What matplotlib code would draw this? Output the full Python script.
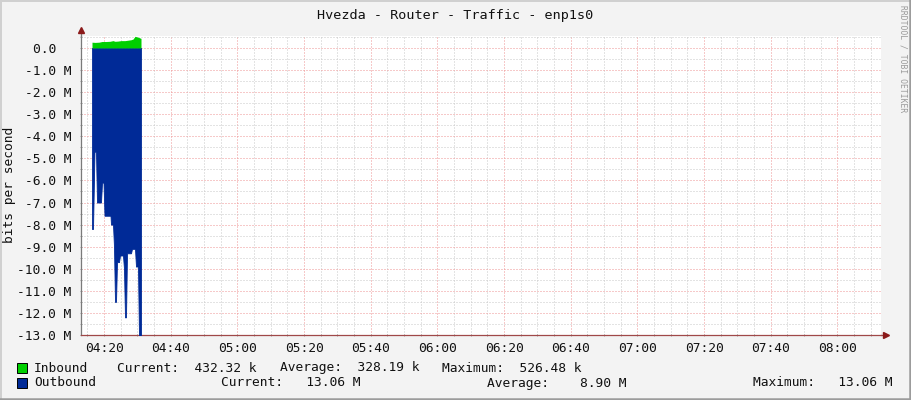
import matplotlib
matplotlib.use('Agg')
import matplotlib.pyplot as plt
import numpy as np
from matplotlib.lines import Line2D
from matplotlib.patches import Rectangle
from matplotlib.ticker import FixedLocator, MultipleLocator

# sample times and values (bits per second, in M)
in_times = ['04:16:24', '04:17:18', '04:18:30', '04:19:24', '04:20:36', '04:21:48',
            '04:22:42', '04:23:18', '04:24:12', '04:25:06', '04:26:18', '04:27:12',
            '04:28:06', '04:28:42', '04:29:18', '04:29:54', '04:30:30', '04:31:06']
in_values = [0.26, 0.25, 0.26, 0.29, 0.29, 0.30, 0.33, 0.30, 0.31, 0.33, 0.33, 0.35,
             0.37, 0.40, 0.526, 0.50, 0.47, 0.432]

out_times = ['04:16:24', '04:16:42', '04:17:09', '04:17:36', '04:17:54', '04:19:06',
             '04:19:24', '04:19:51', '04:20:09', '04:21:57', '04:22:06', '04:22:42',
             '04:23:00', '04:23:18', '04:23:36', '04:23:54', '04:24:30', '04:24:48',
             '04:25:42', '04:26:00', '04:26:18', '04:26:36', '04:26:54', '04:28:06',
             '04:28:24', '04:29:18', '04:29:36', '04:30:12', '04:30:30', '04:31:06']
out_values = [8.2, 8.2, 4.7, 4.7, 7.0, 7.0, 6.1, 6.1, 7.6, 7.6, 8.0, 8.0,
              9.0, 11.5, 11.5, 9.7, 9.7, 9.4, 9.4, 10.0, 12.2, 12.2, 9.3, 9.3,
              9.1, 9.1, 9.9, 9.9, 13.06, 13.06]

hour_labels = ['04:20', '04:40', '05:00', '05:20', '05:40', '06:00',
               '06:20', '06:40', '07:00', '07:20', '07:40', '08:00']
y_ticks = list(range(-13, 1))

# legend: name, colour, GPRINT strings with their left x (px)
legend_rows = [
    ('Inbound', '#00CF00', [('Current:  432.32 k', 117), ('Average:  328.19 k', 280),
                            ('Maximum:  526.48 k', 442)]),
    ('Outbound', '#002A97', [('Current:   13.06 M', 221), ('Average:    8.90 M', 487),
                             ('Maximum:   13.06 M', 753)]),
]


def to_min(s):
    h, m, sec = [int(p) for p in s.split(':')]
    return (h - 4) * 60 + m + sec / 60.0


W, H = 911, 400
fig = plt.figure(figsize=(W / 100, H / 100), dpi=100, facecolor='#F3F3F3')


def fx(x):
    return x / W


def fy(y):
    return 1 - y / H


mono = 'DejaVu Sans Mono'
fs = 9.3
ax = fig.add_axes([fx(81), fy(335), 800 / W, 299 / H], facecolor='white')

t_in = [to_min(t) for t in in_times]
t_out = [to_min(t) for t in out_times]
ax.fill_between(t_out, 0, -np.array(out_values), color='#002A97', lw=0.6, zorder=3)
ax.fill_between(t_in, 0, in_values, color='#00CF00', lw=0, zorder=3)

x0 = 20 - 23 * 0.3
ax.set_xlim(x0, x0 + 240)
ax.set_ylim(-13, 0.54)

major_x = [to_min(h + ':00') for h in hour_labels]
ax.xaxis.set_major_locator(FixedLocator(major_x))
ax.set_xticklabels(hour_labels)
ax.xaxis.set_minor_locator(MultipleLocator(5))
ax.set_yticks(y_ticks)
ax.set_yticklabels(['0.0  ' if v == 0 else '%.1f M' % v for v in y_ticks])
ax.yaxis.set_minor_locator(MultipleLocator(0.5))

ax.grid(which='minor', color='#C8C8C8', lw=0.72, linestyle=(0, (1, 2)), zorder=1)
ax.grid(which='major', color='#EE9595', lw=0.72, linestyle=(0, (1, 2)), zorder=2)
ax.set_axisbelow(True)

for sp in ['top', 'right']:
    ax.spines[sp].set_visible(False)
ax.spines['left'].set_color('#7A7A7A')
ax.spines['bottom'].set_color('#A04848')
ax.spines['left'].set_linewidth(0.9)
ax.spines['bottom'].set_linewidth(0.9)

ax.tick_params(which='both', length=2, width=0.7, color='#A0A0A0', direction='inout')
ax.tick_params(axis='y', labelsize=fs, pad=6)
ax.tick_params(axis='x', labelsize=fs, pad=4)
for lab in ax.get_xticklabels() + ax.get_yticklabels():
    lab.set_family(mono)
    lab.set_color('#111111')

# axis arrows
ax.plot([0, 0], [1, 1.02], transform=ax.transAxes, color='#7A7A7A', lw=0.9, clip_on=False)
ax.plot([0], [1 + 6 / 299], transform=ax.transAxes, marker='^', ms=5,
        color='#8B1A1A', clip_on=False, zorder=5)
ax.plot([1, 1.005], [0, 0], transform=ax.transAxes, color='#A04848', lw=0.9, clip_on=False)
ax.plot([1 + 5 / 800], [0], transform=ax.transAxes, marker='>', ms=5,
        color='#8B1A1A', clip_on=False, zorder=5)

fig.text(fx(455), fy(15), 'Hvezda - Router - Traffic - enp1s0', family=mono,
         fontsize=9.7, ha='center', va='center', color='#111111')
fig.text(fx(10), fy(185), 'bits per second', family=mono, fontsize=fs,
         rotation=90, ha='center', va='center', color='#111111')
fig.text(fx(903), fy(5), 'RRDTOOL / TOBI OETIKER', family=mono, fontsize=5.8,
         rotation=270, ha='center', va='top', color='#9A9A9A')

for i, (name, col, items) in enumerate(legend_rows):
    yc = 368 + i * 15
    fig.add_artist(Rectangle((fx(17), fy(yc + 5)), 10 / W, 10 / H, facecolor=col,
                             edgecolor='black', lw=0.7, transform=fig.transFigure))
    fig.text(fx(34), fy(yc), name, family=mono, fontsize=fs, va='center', color='#111111')
    for txt, xpos in items:
        fig.text(fx(xpos), fy(yc), txt, family=mono, fontsize=fs, va='center', color='#111111')

# 3d-ish frame
fig.add_artist(Line2D([0, 1], [fy(1), fy(1)], color='#D0D0D0', lw=1.4, transform=fig.transFigure))
fig.add_artist(Line2D([fx(1), fx(1)], [0, 1], color='#D0D0D0', lw=1.4, transform=fig.transFigure))
fig.add_artist(Line2D([0, 1], [fy(399), fy(399)], color='#9C9C9C', lw=1.8, transform=fig.transFigure))
fig.add_artist(Line2D([fx(910), fx(910)], [0, 1], color='#9C9C9C', lw=1.8, transform=fig.transFigure))

fig.savefig('out.png', dpi=100, facecolor=fig.get_facecolor())
